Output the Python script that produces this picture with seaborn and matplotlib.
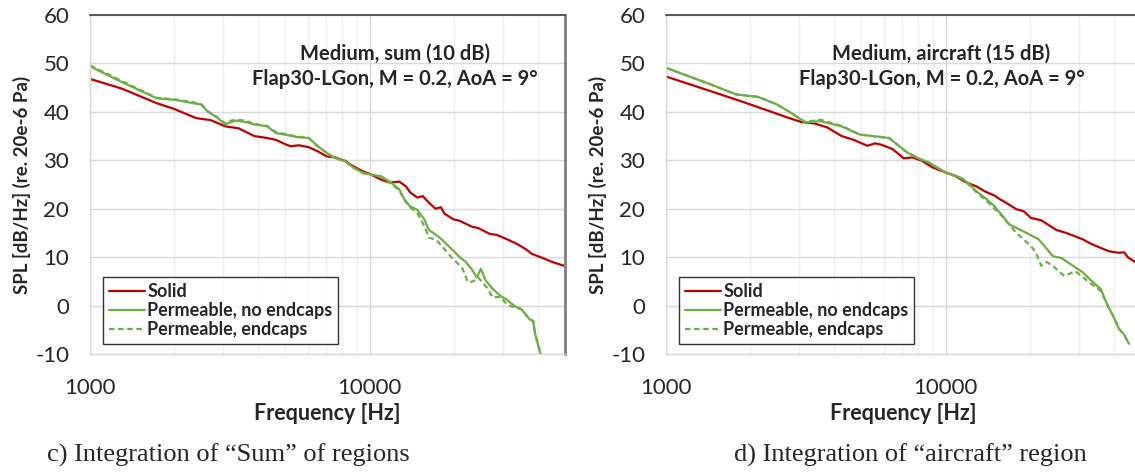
import numpy as np
import pandas as pd
import seaborn as sns
import matplotlib.pyplot as plt
from matplotlib.ticker import FixedLocator, NullFormatter

#========================= Data ===============================================
# c) "Sum" of regions
sum_solid_f = [1000, 1300, 1730, 2000, 2400, 2700, 3050, 3400, 3870, 4300, 4630, 5000,
               5220, 5600, 6060, 6500, 7030, 7500, 8170, 8600, 9480, 10000, 11000, 11800,
               12770, 13500, 14000, 14830, 15500, 16200, 17200, 18000, 18500, 19950, 21000,
               23200, 24500, 26900, 28500, 31250, 33500, 36300, 38000, 40000, 42100, 45000, 49700]
sum_solid_spl = [46.8, 44.8, 41.8, 40.6, 38.7, 38.3, 37.0, 36.6, 35.0, 34.6, 34.2, 33.3,
                 32.9, 33.1, 32.7, 31.9, 30.8, 30.6, 29.9, 29.0, 27.7, 27.2, 26.0, 25.4,
                 25.6, 24.6, 23.3, 22.3, 22.6, 21.4, 20.0, 20.3, 19.0, 17.8, 17.5,
                 16.3, 16.0, 14.8, 14.6, 13.6, 12.8, 11.6, 10.7, 10.2, 9.7, 9.0, 8.2]

sum_perm_f = [1000, 1285, 1730, 2000, 2330, 2500, 2630, 2850, 3050, 3200, 3330, 3600, 3870,
              4300, 4630, 5100, 5500, 6060, 6500, 7030, 7500, 8170, 8700, 9480, 10200, 11000,
              11800, 12770, 13300, 13950, 14800, 15700, 16300, 17200, 18000, 19950, 21000,
              22000, 23200, 24200, 25000, 26000, 27500, 29400, 31000, 33000, 35000, 37300,
              38500, 39000, 40000, 40900]
sum_perm_spl = [49.4, 46.3, 42.8, 42.5, 41.8, 41.5, 40.1, 38.8, 37.4, 37.9, 38.2, 37.9, 37.4,
                37.0, 35.6, 35.2, 34.8, 34.6, 33.0, 31.5, 30.5, 29.8, 28.6, 27.4, 27.0, 26.7,
                25.6, 24.0, 22.0, 20.5, 19.8, 17.8, 15.6, 14.7, 13.8, 11.3, 10.0,
                9.1, 7.5, 5.8, 7.6, 5.2, 3.5, 2.0, 1.2, -0.1, -0.8, -2.8,
                -3.2, -5.5, -8.0, -10.0]

sum_endc_f = [1000, 1285, 1730, 2000, 2330, 2500, 2630, 2850, 3050, 3200, 3330, 3600, 3870,
              4300, 4630, 5100, 5500, 6060, 6500, 7030, 7500, 8170, 8700, 9480, 10200, 11000,
              11800, 12770, 13300, 13950, 14800, 15700, 16300, 17200, 18000, 19950, 20500,
              21500, 22500, 23500, 24500, 25300, 26500, 27500, 29400, 31250, 33000, 35000,
              37300, 38500, 39000, 40000, 40900]
sum_endc_spl = [49.6, 46.5, 42.9, 42.6, 42.0, 41.6, 40.2, 38.9, 37.6, 38.2, 38.4, 38.2, 37.5,
                37.1, 35.8, 35.3, 34.9, 34.6, 33.0, 31.5, 30.5, 29.8, 28.6, 27.3, 27.0, 26.6,
                25.4, 23.8, 21.8, 20.3, 19.2, 16.4, 14.0, 13.7, 12.5, 9.5, 8.9,
                7.6, 4.8, 5.0, 5.8, 4.8, 3.5, 1.7, 1.8, 0.0, -0.3, -0.8,
                -2.8, -3.2, -5.5, -8.0, -10.0]

# d) "aircraft" region
ac_solid_f = [1000, 1440, 1830, 2330, 2700, 3050, 3400, 3770, 4250, 4700, 5250, 5600, 5900,
              6470, 7080, 7600, 8230, 9000, 10000, 10800, 11700, 12900, 13800, 14970, 15800,
              16500, 17900, 19000, 20200, 22000, 24900, 27000, 30900, 33000, 35900, 38500,
              41700, 43500, 45000, 48000, 50000]
ac_solid_spl = [47.3, 44.3, 42.3, 40.2, 38.9, 37.9, 37.6, 36.8, 35.0, 34.2, 33.0, 33.5, 33.2,
                32.3, 30.4, 30.6, 29.9, 28.5, 27.5, 26.8, 25.6, 24.6, 23.6, 22.7, 21.8,
                21.2, 19.9, 19.5, 18.1, 17.6, 15.6, 15.0, 13.7, 12.8, 11.9, 11.2,
                10.9, 11.0, 9.9, 8.9, 8.6]

ac_perm_f = [1000, 1440, 1780, 2130, 2480, 2800, 3150, 3550, 4250, 4940, 5500, 6280, 6800,
             7290, 8000, 8740, 10000, 11450, 12200, 12900, 14000, 14970, 16000, 16860, 19000,
             21500, 22800, 24200, 26000, 27400, 30900, 33000, 35900, 38000, 40000, 41700,
             43500, 45300]
ac_perm_spl = [49.1, 45.7, 43.6, 43.1, 41.6, 39.8, 37.8, 38.1, 37.0, 35.3, 35.0, 34.6, 33.0,
               31.6, 30.4, 29.5, 27.5, 26.3, 25.0, 23.6, 22.0, 20.5, 18.5, 16.8, 15.3,
               13.7, 12.0, 10.2, 9.8, 8.9, 6.9, 5.3, 3.4, 0.0, -2.5, -4.8,
               -6.0, -7.9]

ac_endc_f = [1000, 1440, 1780, 2130, 2480, 2800, 3150, 3550, 4250, 4940, 5500, 6280, 6800,
             7290, 8000, 8740, 10000, 11450, 12200, 12900, 14000, 14970, 15900, 17900, 20200,
             21000, 22000, 23000, 24200, 25500, 26600, 29100, 32800, 35900, 38000, 40000,
             41700, 43500, 45300]
ac_endc_spl = [49.1, 45.7, 43.6, 43.1, 41.6, 39.8, 37.9, 38.4, 37.1, 35.3, 35.0, 34.6, 33.0,
               31.6, 30.4, 29.5, 27.4, 26.2, 24.8, 23.4, 21.6, 20.0, 18.5, 15.0, 12.3,
               11.0, 8.2, 9.0, 8.2, 7.0, 6.1, 7.1, 4.7, 3.0, 0.0, -2.5,
               -4.8, -6.0, -7.9]

series_names = ['Solid', 'Permeable, no endcaps', 'Permeable, endcaps']
y_ticks = [-10, 0, 10, 20, 30, 40, 50, 60]
x_ticks = [1000, 10000]
titles = ['Medium, sum (10 dB)', 'Medium, aircraft (15 dB)']
case_str = 'Flap30-LGon, M = 0.2, AoA = 9°'
captions = ['c) Integration of \u201cSum\u201d of regions', 'd) Integration of \u201caircraft\u201d region']

def make_df(fs, spls):
    frames = []
    for name, f, s in zip(series_names, fs, spls):
        frames.append(pd.DataFrame({'freq': f, 'spl': s, 'series': name}))
    return pd.concat(frames, ignore_index=True)

df_sum = make_df([sum_solid_f, sum_perm_f, sum_endc_f], [sum_solid_spl, sum_perm_spl, sum_endc_spl])
df_ac = make_df([ac_solid_f, ac_perm_f, ac_endc_f], [ac_solid_spl, ac_perm_spl, ac_endc_spl])

#========================= Plot ===============================================
sns.set_theme(style='white')
plt.rcParams['font.family'] = ['Lato', 'DejaVu Sans']

red = '#C00000'
green = '#70AD47'
palette = {'Solid': red, 'Permeable, no endcaps': green, 'Permeable, endcaps': green}
dashes = {'Solid': '', 'Permeable, no endcaps': '', 'Permeable, endcaps': (2.5, 1.6)}

W, H = 1135, 472
fig = plt.figure(figsize=(W / 100, H / 100), dpi=100)
ax1 = fig.add_axes([90 / W, (H - 354) / H, 475 / W, 339 / H])
ax2 = fig.add_axes([666 / W, (H - 354) / H, 475 / W, 339 / H])

for ax, df, title, cap, capx in zip([ax1, ax2], [df_sum, df_ac], titles, captions, [47, 734]):
    sns.lineplot(data=df, x='freq', y='spl', hue='series', style='series',
                 palette=palette, dashes=dashes, sort=False, estimator=None,
                 linewidth=1.6, ax=ax)
    ax.set_xscale('log')
    ax.set_xlim(1000, 50000)
    ax.set_ylim(-10, 60)
    ax.xaxis.set_major_locator(FixedLocator(x_ticks))
    ax.set_xticklabels([str(t) for t in x_ticks])
    ax.xaxis.set_minor_locator(FixedLocator([k * 10 ** e for e in (3, 4) for k in range(2, 10)]))
    ax.xaxis.set_minor_formatter(NullFormatter())
    ax.set_yticks(y_ticks)
    ax.set_yticklabels([str(t) for t in y_ticks])
    ax.tick_params(axis='both', which='both', length=0, labelsize=16)
    ax.tick_params(axis='x', pad=17)
    ax.tick_params(axis='y', pad=15)
    ax.grid(which='major', color='#D9D9D9', linewidth=1.0)
    ax.grid(which='minor', axis='x', color='#EDEDED', linewidth=0.9)
    ax.set_axisbelow(True)
    for side in ['left', 'bottom']:
        ax.spines[side].set_color('#D9D9D9')
        ax.spines[side].set_linewidth(1.0)
    ax.spines['top'].set_color('#404040')
    ax.spines['top'].set_linewidth(1.2)
    ax.spines['right'].set_color('#7F7F7F')
    ax.spines['right'].set_linewidth(2.0)

    ax.set_xlabel('Frequency [Hz]', fontsize=15.5, fontweight='bold', labelpad=4)
    ax.set_ylabel('SPL [dB/Hz] (re. 20e-6 Pa)', fontsize=13.5, fontweight='bold', labelpad=3)

    cx = 0.642 if ax is ax1 else 0.58
    ax.text(cx, 0.885, title, transform=ax.transAxes, ha='center', va='center',
            fontsize=14.5, fontweight='bold')
    ax.text(cx, 0.81, case_str, transform=ax.transAxes, ha='center', va='center',
            fontsize=14.5, fontweight='bold')

    handles, labels = ax.get_legend_handles_labels()
    leg = ax.legend(handles, labels, loc='lower left', bbox_to_anchor=(0.02, 0.02),
                    frameon=True, fancybox=False, fontsize=13, handlelength=2.0,
                    handletextpad=0.15, labelspacing=0.12, borderpad=0.3, borderaxespad=0.2)
    leg.get_frame().set_edgecolor('black')
    leg.get_frame().set_linewidth(1.0)
    for t in leg.get_texts():
        t.set_fontweight('bold')

    fig.text(capx / W, (H - 455) / H, cap, fontsize=19, family='Liberation Serif',
             ha='left', va='center')

fig.savefig('out.png', dpi=100)
